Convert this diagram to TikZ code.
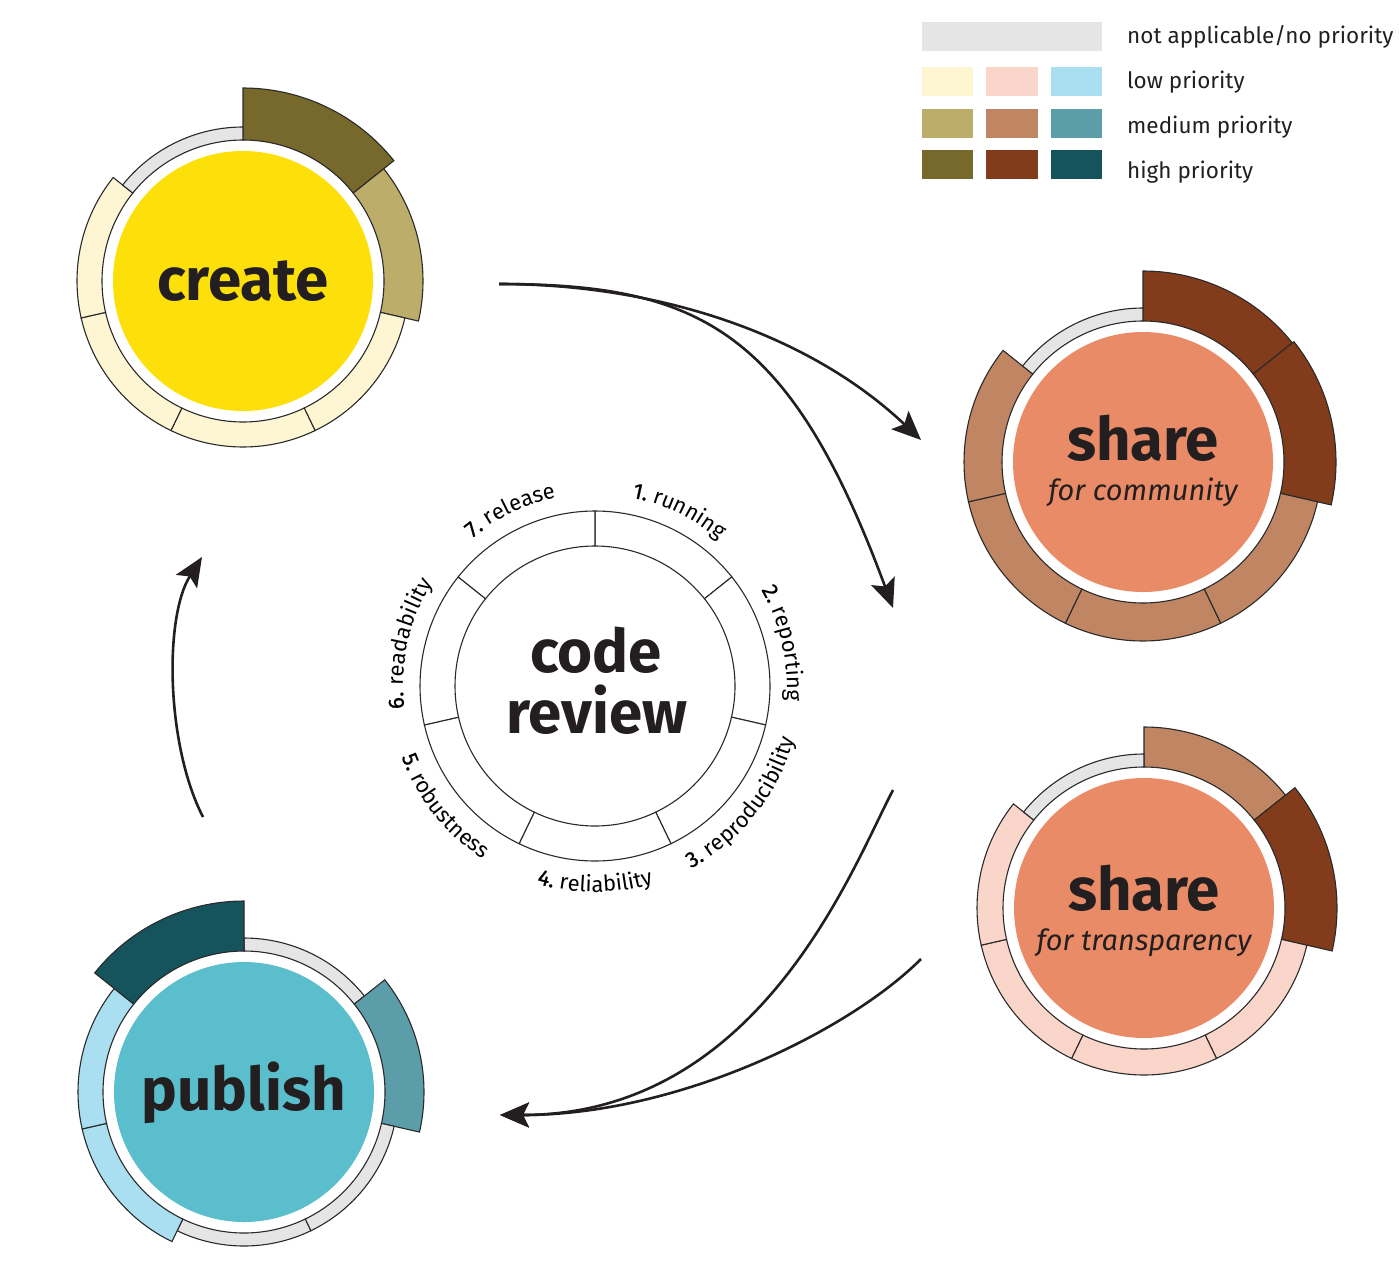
\documentclass[tikz,border=0pt]{standalone}
\usepackage{fontspec}
\setmainfont{Fira Sans}
\newfontfamily\numfont{Fira Sans}[FakeBold=0.9]
\usetikzlibrary{arrows.meta,decorations.text,calc}

\definecolor{nagray}{HTML}{E5E5E5}
\definecolor{crlow}{HTML}{FEF6D3}
\definecolor{crmed}{HTML}{BDAD6A}
\definecolor{crhigh}{HTML}{77692C}
\definecolor{shlow}{HTML}{FAD5CA}
\definecolor{shmed}{HTML}{C08663}
\definecolor{shhigh}{HTML}{833C1B}
\definecolor{pblow}{HTML}{A9DFF0}
\definecolor{pbmed}{HTML}{5B9EAA}
\definecolor{pbhigh}{HTML}{15545C}
\definecolor{createfill}{HTML}{FDDF0A}
\definecolor{sharefill}{HTML}{E98B66}
\definecolor{publishfill}{HTML}{5BBECD}
\definecolor{ink}{HTML}{231F20}
\definecolor{segedge}{HTML}{2A2A2A}

\newcommand{\lblfont}{\fontsize{22}{26}\selectfont}

% ring segment: #1 centre, #2 index (1..7), #3 inner r, #4 outer r, #5 colour
\newcommand{\rseg}[5]{%
  \pgfmathsetmacro{\segA}{90-(#2-1)*360/7}%
  \pgfmathsetmacro{\segB}{90-(#2)*360/7}%
  \draw[segline, fill=#5, shift={(#1)}] (\segA:#3)
    arc[start angle=\segA, end angle=\segB, radius=#3] -- (\segB:#4)
    arc[start angle=\segB, end angle=\segA, radius=#4] -- cycle;}

% label on top half (clockwise, tops outward): #1 centre, #2 mid angle, #3 text
\newcommand{\toplbl}[3]{%
  \pgfmathsetmacro{\lA}{#2+40}\pgfmathsetmacro{\lB}{#2-40}%
  \path[shift={(#1)}, decorate, decoration={text along path, text align=center,
     text={#3}}] (\lA:192) arc[start angle=\lA, end angle=\lB, radius=192];}
% label on bottom half (counter-clockwise, tops inward)
\newcommand{\botlbl}[3]{%
  \pgfmathsetmacro{\lA}{#2-40}\pgfmathsetmacro{\lB}{#2+40}%
  \path[shift={(#1)}, decorate, decoration={text along path, text align=center,
     text={#3}}] (\lA:206) arc[start angle=\lA, end angle=\lB, radius=206];}

\tikzset{
  segline/.style={draw=segedge, line width=1.1pt, line join=miter},
  hub/.style={circle, minimum size=260pt, inner sep=0pt},
  bigword/.style={font=\fontsize{60}{60}\selectfont\bfseries, text=ink, inner sep=0pt},
  subword/.style={font=\fontsize{29}{29}\selectfont\itshape, text=ink, inner sep=0pt},
  legtext/.style={font=\fontsize{22.5}{23}\selectfont, text=ink, inner sep=0pt, anchor=base west},
  flow/.style={line width=2.6pt, draw=ink, -{Stealth[length=29pt,width=25pt,inset=6pt]}},
}

\begin{document}
\begin{tikzpicture}[x=1pt,y=1pt]
\fill[white] (0,0) rectangle (1399,-1264);
\useasboundingbox (0,0) rectangle (1399,-1264);

% ---------- legend ----------
\fill[nagray] (922,-22) rectangle (1102,-51);
\fill[crlow]  (922,-67) rectangle (973,-96);
\fill[shlow]  (986,-67) rectangle (1038,-96);
\fill[pblow]  (1051,-67) rectangle (1102,-96);
\fill[crmed]  (922,-109) rectangle (973,-138);
\fill[shmed]  (986,-109) rectangle (1038,-138);
\fill[pbmed]  (1051,-109) rectangle (1102,-138);
\fill[crhigh] (922,-150) rectangle (973,-179);
\fill[shhigh] (986,-150) rectangle (1038,-179);
\fill[pbhigh] (1051,-150) rectangle (1102,-179);
\node[legtext] (lna) at (1127,-43) {not applicable/no priority};
\node[legtext] (llo) at (1127,-88) {low priority};
\node[legtext] (lme) at (1127,-133) {medium priority};
\node[legtext] (lhi) at (1127,-178) {high priority};

% ---------- create ----------
\node[hub, fill=createfill, bigword] (create) at (243,-281) {create};
\rseg{create.center}{1}{141}{193}{crhigh}
\rseg{create.center}{2}{141}{180}{crmed}
\rseg{create.center}{3}{141}{166}{crlow}
\rseg{create.center}{4}{141}{166}{crlow}
\rseg{create.center}{5}{141}{166}{crlow}
\rseg{create.center}{6}{141}{166}{crlow}
\rseg{create.center}{7}{141}{154}{nagray}

% ---------- share for community ----------
\node[hub, fill=sharefill] (sharec) at (1143,-462) {};
\node[bigword, anchor=base] (sharecw) at (1143,-460) {share};
\node[subword, anchor=base] (sharecs) at (1143,-500) {for community};
\rseg{sharec.center}{1}{141}{191}{shhigh}
\rseg{sharec.center}{2}{141}{193}{shhigh}
\rseg{sharec.center}{3}{141}{179}{shmed}
\rseg{sharec.center}{4}{141}{179}{shmed}
\rseg{sharec.center}{5}{141}{179}{shmed}
\rseg{sharec.center}{6}{141}{179}{shmed}
\rseg{sharec.center}{7}{141}{154}{nagray}

% ---------- share for transparency ----------
\node[hub, fill=sharefill] (sharet) at (1144,-908) {};
\node[bigword, anchor=base] (sharetw) at (1144,-910) {share};
\node[subword, anchor=base] (sharets) at (1144,-950) {for transparency};
\rseg{sharet.center}{1}{141}{181}{shmed}
\rseg{sharet.center}{2}{141}{193}{shhigh}
\rseg{sharet.center}{3}{141}{167}{shlow}
\rseg{sharet.center}{4}{141}{167}{shlow}
\rseg{sharet.center}{5}{141}{167}{shlow}
\rseg{sharet.center}{6}{141}{167}{shlow}
\rseg{sharet.center}{7}{141}{154}{nagray}

% ---------- publish ----------
\node[hub, fill=publishfill] (publish) at (244,-1092) {};
\node[bigword, anchor=base] (publishw) at (244,-1110) {publish};
\rseg{publish.center}{1}{141}{154}{nagray}
\rseg{publish.center}{2}{141}{180}{pbmed}
\rseg{publish.center}{3}{141}{154}{nagray}
\rseg{publish.center}{4}{141}{154}{nagray}
\rseg{publish.center}{5}{141}{166}{pblow}
\rseg{publish.center}{6}{141}{166}{pblow}
\rseg{publish.center}{7}{141}{191}{pbhigh}

% ---------- code review ----------
\node[circle, minimum size=280pt, inner sep=0pt] (review) at (595,-686) {};
\foreach \k in {1,...,7} {\rseg{review.center}{\k}{140}{175}{white}}
\node[bigword, anchor=base] (codew) at (596,-672) {code};
\node[bigword, anchor=base] (revieww) at (597,-733) {review};
\toplbl{review.center}{64.286}{|\lblfont\numfont|1. |\lblfont\normalfont\lblfont|running}
\toplbl{review.center}{12.857}{|\lblfont\numfont|2. |\lblfont\normalfont\lblfont|reporting}
\botlbl{review.center}{-38.571}{|\lblfont\numfont|3. |\lblfont\normalfont\lblfont|reproducibility}
\botlbl{review.center}{-90}{|\lblfont\numfont|4. |\lblfont\normalfont\lblfont|reliability}
\botlbl{review.center}{-141.429}{|\lblfont\numfont|5. |\lblfont\normalfont\lblfont|robustness}
\toplbl{review.center}{167.143}{|\lblfont\numfont|6. |\lblfont\normalfont\lblfont|readability}
\toplbl{review.center}{115.714}{|\lblfont\numfont|7. |\lblfont\normalfont\lblfont|release}

% ---------- connectors ----------
\coordinate (a0) at (499,-284);
\coordinate (t1) at (921,-440);
\coordinate (t2) at (893,-608);
\coordinate (s3) at (893,-790);
\coordinate (s4) at (921,-959);
\coordinate (t3) at (500,-1115);
\coordinate (s5) at (203,-817);
\coordinate (t5) at (202,-557);
\draw[flow] (a0) .. controls (660,-284) and (810,-335) .. (t1);
\draw[flow] (a0) .. controls (700,-284) and (790,-330) .. (t2);
\draw[flow] (s3) .. controls (852,-868) and (760,-1115) .. (t3);
\draw[flow] (s4) .. controls (850,-1030) and (680,-1115) .. (t3);
\draw[flow] (s5) .. controls (166,-745) and (164,-617) .. (t5);
\end{tikzpicture}
\end{document}
